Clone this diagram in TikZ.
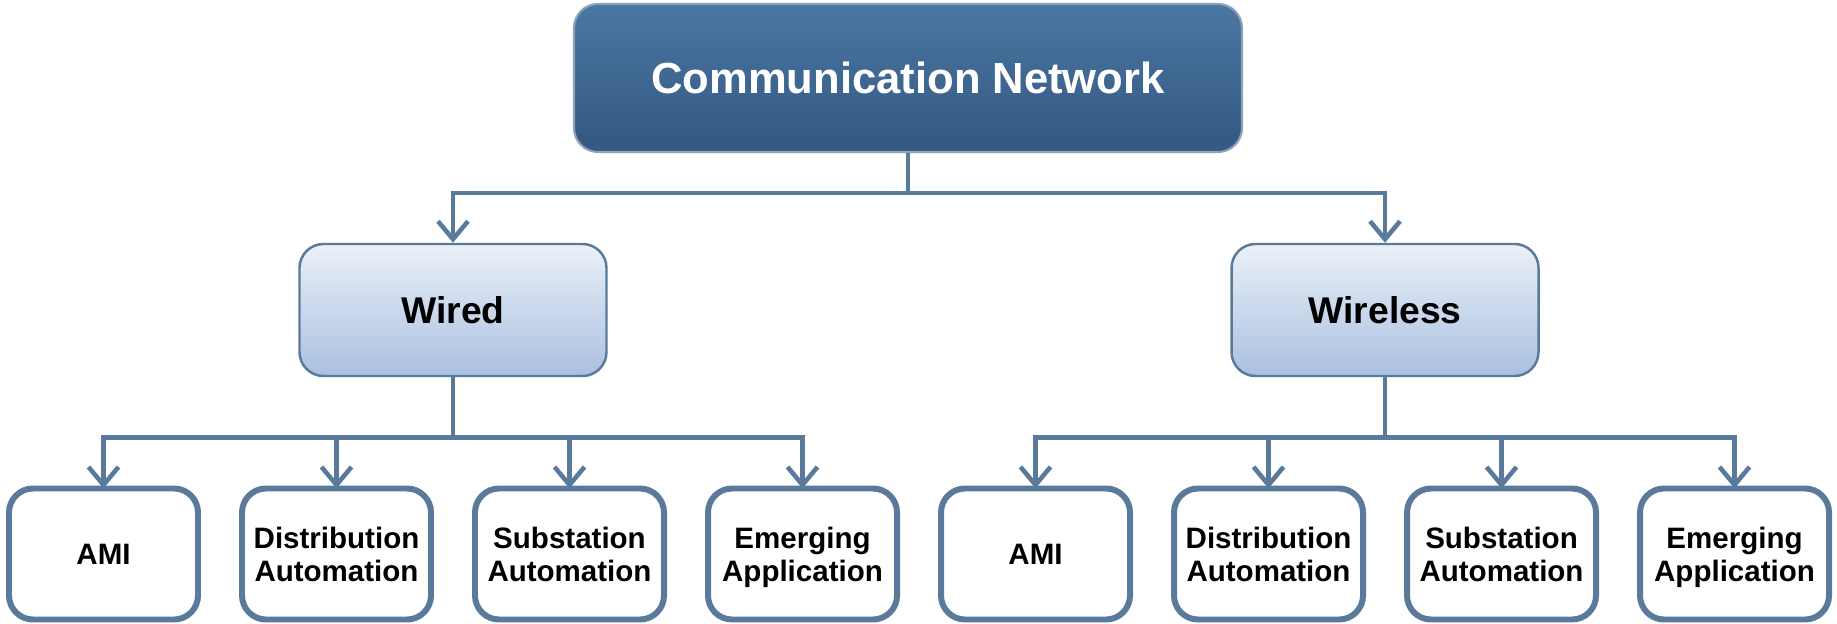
\documentclass[tikz,border=0pt]{standalone}
\usepackage{fontspec}
\setmainfont{Liberation Sans}
\usepackage{tikz}
\usetikzlibrary{shapes,arrows,arrows.meta,positioning,calc}

\definecolor{linecol}{HTML}{5A7A9C}
\definecolor{topA}{HTML}{4A77A2}
\definecolor{topB}{HTML}{335882}
\definecolor{midA}{HTML}{EAF0F8}
\definecolor{midB}{HTML}{AAC0E0}

\tikzset{
  rootbox/.style={draw=linecol!70, line width=0.6pt, rounded corners=0.24cm,
    top color=topA, bottom color=topB, text=white,
    minimum width=6.68cm, minimum height=1.48cm,
    font=\bfseries\fontsize{12.4}{15}\selectfont},
  kindbox/.style={draw=linecol, line width=0.7pt, rounded corners=0.24cm,
    top color=midA, bottom color=midB,
    minimum width=3.07cm, minimum height=1.32cm,
    font=\bfseries\fontsize{10.6}{12}\selectfont},
  leafbox/.style={draw=linecol, line width=1.7pt, rounded corners=0.24cm,
    fill=white, align=center, inner sep=1pt, outer sep=0pt,
    minimum width=1.89cm, minimum height=1.31cm, text depth=0pt,
    font=\bfseries\fontsize{8.4}{9.4}\selectfont},
  conn/.style={linecol, line width=1.3pt},
  tip/.style={conn, -{Straight Barb[length=1.8mm,width=3mm,line width=1.3pt]}}
}

\begin{document}
\begin{tikzpicture}

\useasboundingbox (0,0) rectangle (18.37,-6.24);

\node[rootbox] (CN) at (9.08,-0.78) {Communication Network};

\node[kindbox] (WD) at (4.53,-3.10) {Wired};
\node[kindbox] (WL) at (13.85,-3.10) {Wireless};

% leaves, left to right
\node[leafbox, anchor=west] (L1) at (0.09,-5.54) {AMI};
\node[leafbox, anchor=west] (L2) at ($ (L1.east) + (0.44cm, 0) $) {Distribution\\Automation};
\node[leafbox, anchor=west] (L3) at ($ (L2.east) + (0.44cm, 0) $) {Substation\\Automation};
\node[leafbox, anchor=west] (L4) at ($ (L3.east) + (0.44cm, 0) $) {Emerging\\Application};
\node[leafbox, anchor=west] (L5) at ($ (L4.east) + (0.44cm, 0) $) {AMI};
\node[leafbox, anchor=west] (L6) at ($ (L5.east) + (0.44cm, 0) $) {Distribution\\Automation};
\node[leafbox, anchor=west] (L7) at ($ (L6.east) + (0.44cm, 0) $) {Substation\\Automation};
\node[leafbox, anchor=west] (L8) at ($ (L7.east) + (0.44cm, 0) $) {Emerging\\Application};

% root to the two kinds
\draw[conn] (CN.south) -- ++(0,-0.40) coordinate (CNbus);
\draw[tip] (CNbus) -| (WD.north);
\draw[tip] (CNbus) -| (WL.north);

% kinds to leaves
\draw[conn] (WD.south) -- ++(0,-0.60) coordinate (WDbus);
\draw[conn] (WL.south) -- ++(0,-0.60) coordinate (WLbus);
\foreach \n in {1,2,3,4}
  \draw[tip] (WDbus) -| (L\n.north);
\foreach \n in {5,6,7,8}
  \draw[tip] (WLbus) -| (L\n.north);

\end{tikzpicture}
\end{document}
